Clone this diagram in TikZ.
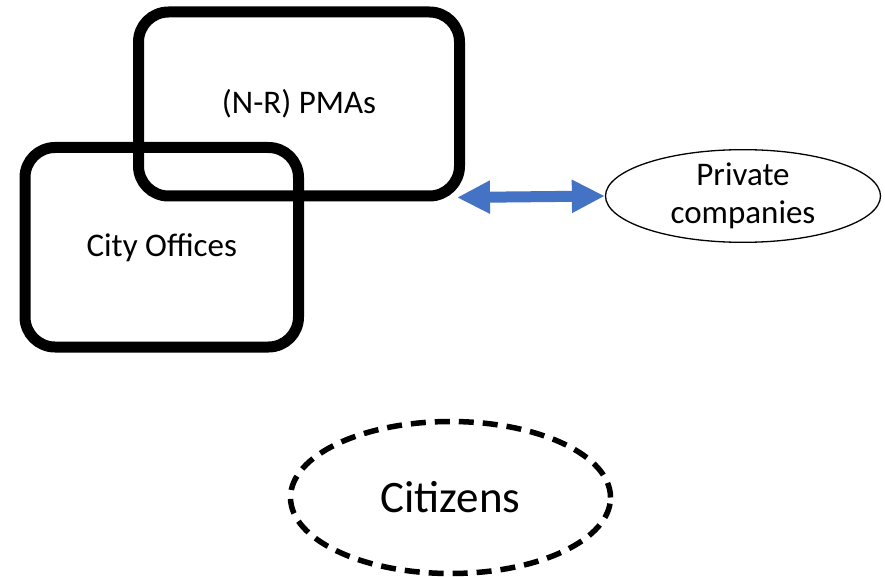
\documentclass[tikz,border=0pt]{standalone}
\usepackage{fontspec}
\setmainfont{Carlito}
\usetikzlibrary{shapes.geometric,arrows.meta}
\definecolor{arrowblue}{RGB}{68,114,196}
\tikzset{
  orgbox/.style={draw=black, line width=11pt, rounded corners=30pt,
    inner sep=0pt, font=\fontsize{33}{39}\selectfont},
  partner/.style={ellipse, draw=black, line width=1.3pt, inner sep=0pt,
    align=center, font=\fontsize{33}{37.5}\selectfont},
  public/.style={ellipse, draw=black, line width=5.5pt, inner sep=0pt,
    dash pattern=on 15pt off 9pt, font=\fontsize{45}{50}\selectfont},
  exchange/.style={draw=arrowblue, line width=11pt,
    {Triangle[length=33pt,width=31pt]}-{Triangle[length=33pt,width=31pt]}}
}
\begin{document}
\begin{tikzpicture}[x=1pt,y=-1pt]
  \useasboundingbox (0,0) rectangle (885,577);
  % organisation boxes
  \node[orgbox, minimum width=321pt, minimum height=184pt] (pma)
    at (299,104) {\raisebox{-2pt}{(N-R) PMAs}};
  \node[orgbox, minimum width=273.5pt, minimum height=199.5pt] (city)
    at (161.75,247.25) {\raisebox{-2pt}{City Offices}};
  % outside actors
  \node[partner, minimum width=275pt, minimum height=90pt] (priv) at (743,196) {Private\\companies};
  \node[public, minimum width=320pt, minimum height=152pt] (cit) at (450.5,497.5) {Citizens};
  % two-way link
  \draw[exchange] ([shift={(-8,-4)}]pma.south east) -- (priv.west);
\end{tikzpicture}
\end{document}
